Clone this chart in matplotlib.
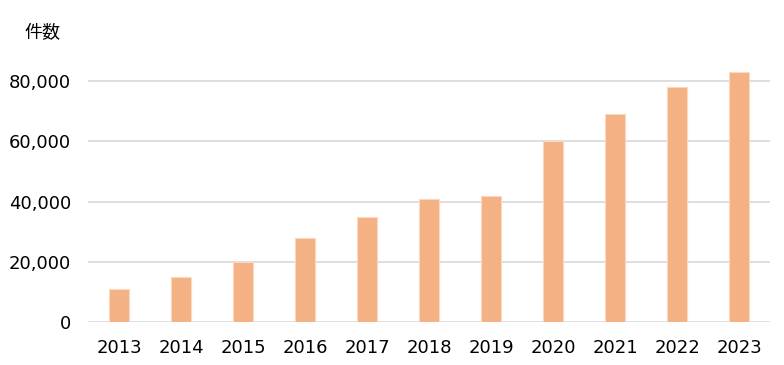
import numpy as np
import matplotlib.pyplot as plt

years = ["2013", "2014", "2015", "2016", "2017", "2018", "2019", "2020", "2021", "2022", "2023"]
counts = [11000, 15000, 20000, 28000, 35000, 41000, 42000, 60000, 69000, 78000, 83000]
y_ticks = [0, 20000, 40000, 60000, 80000]
y_label = "件数"

plt.rcParams['font.family'] = ['DejaVu Sans', 'Noto Sans CJK JP']

fig = plt.figure(figsize=(7.84, 3.65), dpi=100)
ax = fig.add_axes([88 / 784, 1 - 322 / 365, (770 - 88) / 784, (322 - 63) / 365])

x = np.arange(len(years))
ax.bar(x, counts, width=0.32, color="#F4B183", edgecolor="#FBD9C0", linewidth=0.8, zorder=3)

ax.set_xlim(-0.5, len(years) - 0.5)
ax.set_ylim(0, 86000)
ax.set_yticks(y_ticks)
ax.set_yticklabels([f"{v:,}" for v in y_ticks])
ax.set_xticks(x)
ax.set_xticklabels(years)

ax.grid(axis="y", color="#D9D9D9", linewidth=1.2, zorder=0)
for s in ax.spines.values():
    s.set_visible(False)
ax.tick_params(axis="both", length=0, labelsize=13, colors="black")
ax.tick_params(axis="y", pad=12)
ax.tick_params(axis="x", pad=12)

fig.text(42 / 784, 1 - 33 / 365, y_label, ha="center", va="center", fontsize=13,
         family=['Noto Sans CJK JP', 'DejaVu Sans'])

fig.savefig("out.png", dpi=100)
